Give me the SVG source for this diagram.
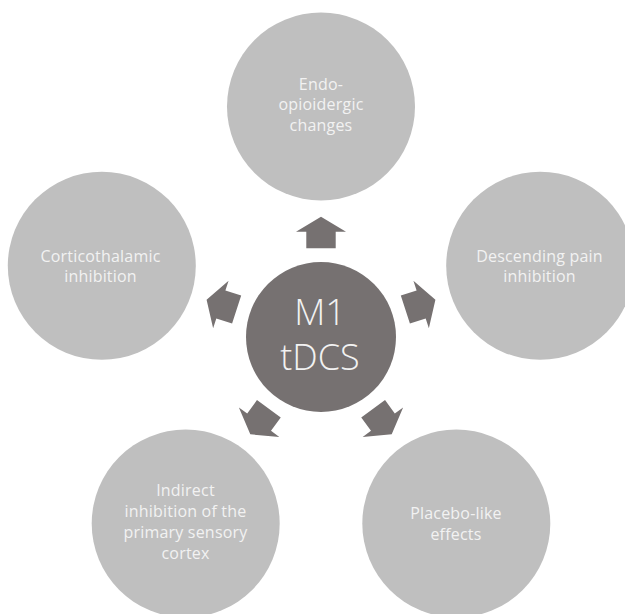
<svg xmlns="http://www.w3.org/2000/svg" width="625" height="614" viewBox="0 0 625 614">
  <defs>
    <style>
      .outer { fill: #bfbfbf; }
      .hub { fill: #767171; }
      .arrow { fill: #767171; }
      .lbl { font-family: "Open Sans", "Liberation Sans", sans-serif; font-size: 16px; font-weight: 400; letter-spacing: 0.2px; fill: #f2f2f2; text-anchor: middle; }
      .hubtxt { font-family: "Open Sans", "Liberation Sans", sans-serif; font-size: 36px; font-weight: 300; fill: #f2f2f2; text-anchor: middle; }
    </style>
    <!-- block arrow pointing up, origin at the hub centre -->
    <path id="blockArrow" d="M0,-120.3 L25,-105.3 L14.7,-105.3 L14.7,-88.7 L-14.7,-88.7 L-14.7,-105.3 L-25,-105.3 Z"/>
  </defs>
  <rect width="625" height="614" fill="#ffffff"/>

  <g id="connectors" class="arrow" transform="translate(321,337)">
    <use href="#blockArrow"/>
    <use href="#blockArrow" transform="rotate(72)"/>
    <use href="#blockArrow" transform="rotate(144)"/>
    <use href="#blockArrow" transform="rotate(216)"/>
    <use href="#blockArrow" transform="rotate(288)"/>
  </g>

  <g id="hub">
    <circle class="hub" cx="321" cy="337" r="75"/>
    <text class="hubtxt" x="320" y="325">M1</text>
    <text class="hubtxt" x="320" y="370">tDCS</text>
  </g>

  <g id="endo-opioidergic">
    <circle class="outer" cx="321" cy="106.5" r="94"/>
    <text class="lbl" x="321" y="89.5">Endo-</text>
    <text class="lbl" x="321" y="110">opioidergic</text>
    <text class="lbl" x="321" y="130.5">changes</text>
  </g>

  <g id="descending-pain">
    <circle class="outer" cx="540.2" cy="265.8" r="94"/>
    <text class="lbl" x="539.5" y="261.7">Descending pain</text>
    <text class="lbl" x="539.5" y="282">inhibition</text>
  </g>

  <g id="placebo">
    <circle class="outer" cx="456.3" cy="523.5" r="94"/>
    <text class="lbl" x="456" y="519">Placebo-like</text>
    <text class="lbl" x="456" y="539.5">effects</text>
  </g>

  <g id="sensory-cortex">
    <circle class="outer" cx="185.7" cy="523.5" r="94"/>
    <text class="lbl" x="185.5" y="496">Indirect</text>
    <text class="lbl" x="185.5" y="517">inhibition of the</text>
    <text class="lbl" x="185.5" y="538">primary sensory</text>
    <text class="lbl" x="185.5" y="559">cortex</text>
  </g>

  <g id="corticothalamic">
    <circle class="outer" cx="101.8" cy="265.8" r="94"/>
    <text class="lbl" x="100.5" y="261.7">Corticothalamic</text>
    <text class="lbl" x="100.5" y="282">inhibition</text>
  </g>
</svg>
